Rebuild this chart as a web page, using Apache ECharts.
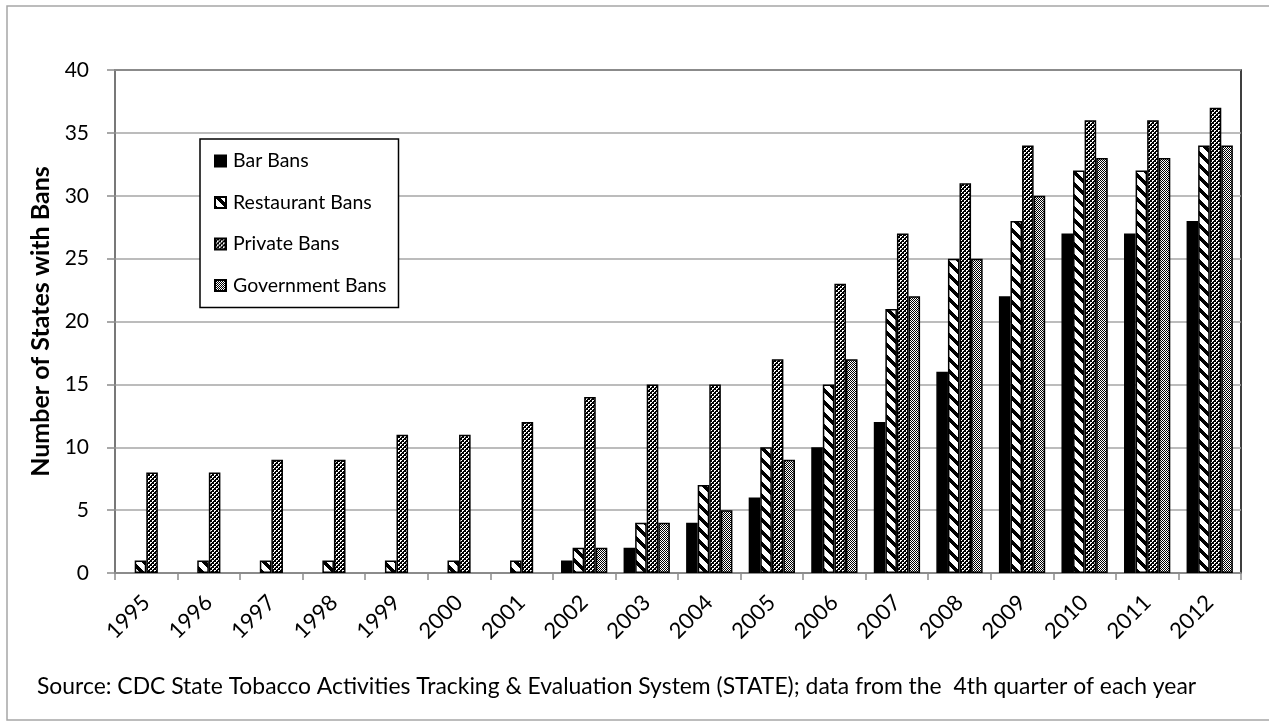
<!DOCTYPE html>
<html>
<head>
<meta charset="utf-8">
<script src="https://cdn.jsdelivr.net/npm/echarts@6/dist/echarts.min.js"></script>
<style>
  html, body { margin: 0; padding: 0; background: #fff; }
  #chart { width: 1269px; height: 722px; }
</style>
</head>
<body>
<div id="chart"></div>
<script>
// Smoke-free law counts by year (number of states)
const years = ['1995','1996','1997','1998','1999','2000','2001','2002','2003','2004','2005','2006','2007','2008','2009','2010','2011','2012'];
const barBans        = [0, 0, 0, 0, 0, 0, 0, 1, 2, 4, 6, 10, 12, 16, 22, 27, 27, 28];
const restaurantBans = [1, 1, 1, 1, 1, 1, 1, 2, 4, 7, 10, 15, 21, 25, 28, 32, 32, 34];
const privateBans    = [8, 8, 9, 9, 11, 11, 12, 14, 15, 15, 17, 23, 27, 31, 34, 36, 36, 37];
const governmentBans = [0, 0, 0, 0, 0, 0, 0, 2, 4, 5, 9, 17, 22, 25, 30, 33, 33, 34];
const yTicks = { min: 0, max: 40, step: 5 };
const sourceNote = 'Source: CDC State Tobacco Activities Tracking & Evaluation System (STATE); data from the  4th quarter of each year';

const FONT = 'Lato, "Liberation Sans", sans-serif';

// Build a small repeating fill tile from a per-pixel rule
function tile(w, h, isBlack) {
  const c = document.createElement('canvas');
  c.width = w; c.height = h;
  const ctx = c.getContext('2d');
  ctx.fillStyle = '#fff';
  ctx.fillRect(0, 0, w, h);
  ctx.fillStyle = '#000';
  for (let y = 0; y < h; y++) {
    for (let x = 0; x < w; x++) {
      if (isBlack(x, y)) ctx.fillRect(x, y, 1, 1);
    }
  }
  return { image: c, repeat: 'repeat' };
}

// wide downward diagonal stripes
const stripeFill = tile(12, 12, (x, y) => (((x - y) % 12) + 12) % 12 < 5);
// dark checkerboard
const darkCheck = tile(4, 4, (x, y) => {
  const white = (x < 2 && y < 2 && !(x === 1 && y === 1)) || (x >= 2 && y >= 2 && !(x === 3 && y === 3));
  return !white;
});
// fine checkerboard
const fineCheck = tile(2, 2, (x, y) => (x + y) % 2 === 0);

const noZero = arr => arr.map(v => (v === 0 ? null : v));

function barSeries(name, data, fill) {
  return {
    name: name,
    type: 'bar',
    data: noZero(data),
    barGap: '0%',
    barCategoryGap: '26%',
    itemStyle: { color: fill, borderColor: '#000', borderWidth: 1.5 },
    emphasis: { disabled: true },
    animation: false
  };
}

const chart = echarts.init(document.getElementById('chart'), null, { renderer: 'canvas' });

chart.setOption({
  animation: false,
  backgroundColor: '#fff',
  textStyle: { fontFamily: FONT, color: '#000' },
  grid: {
    left: 115, right: 28, top: 70, bottom: 149,
    show: true, borderColor: '#000', borderWidth: 1.5, backgroundColor: 'transparent'
  },
  legend: {
    orient: 'vertical',
    left: 200,
    top: 139,
    icon: 'rect',
    itemWidth: 11,
    itemHeight: 11,
    itemGap: 21.5,
    padding: [12, 12, 12, 14],
    borderColor: '#000',
    borderWidth: 1.5,
    backgroundColor: '#fff',
    textStyle: { fontFamily: FONT, fontSize: 19.5, color: '#000', padding: [0, 0, 0, 2] },
    data: ['Bar Bans', 'Restaurant Bans', 'Private Bans', 'Government Bans']
  },
  xAxis: {
    type: 'category',
    data: years,
    axisLine: { lineStyle: { color: '#8c8c8c', width: 1.5 } },
    axisTick: { show: true, length: 7, alignWithLabel: false, lineStyle: { color: '#8c8c8c', width: 1.5 } },
    axisLabel: { rotate: 45, margin: 26, fontSize: 22, color: '#000', fontFamily: FONT, interval: 0 },
    splitLine: { show: false }
  },
  yAxis: {
    type: 'value',
    min: yTicks.min,
    max: yTicks.max,
    interval: yTicks.step,
    name: 'Number of States with Bans',
    nameLocation: 'middle',
    nameGap: 60,
    nameTextStyle: { fontFamily: FONT, fontSize: 25, fontWeight: 'bold', color: '#000' },
    axisLine: { show: true, lineStyle: { color: '#8c8c8c', width: 1.5 } },
    axisTick: { show: true, length: 8, lineStyle: { color: '#8c8c8c', width: 1.5 } },
    axisLabel: { margin: 26, fontSize: 21, color: '#000', fontFamily: FONT },
    splitLine: { show: true, lineStyle: { color: '#a6a6a6', width: 1.5 } }
  },
  series: [
    barSeries('Bar Bans', barBans, '#000'),
    barSeries('Restaurant Bans', restaurantBans, stripeFill),
    barSeries('Private Bans', privateBans, darkCheck),
    barSeries('Government Bans', governmentBans, fineCheck)
  ],
  graphic: [
    {
      type: 'rect',
      silent: true,
      shape: { x: 7, y: 6, width: 1300, height: 714 },
      style: { fill: 'transparent', stroke: '#a6a6a6', lineWidth: 1.5 },
      z: -1
    },
    {
      type: 'text',
      left: 37,
      top: 675,
      style: { text: sourceNote, font: '22.9px ' + FONT, fill: '#000' }
    }
  ]
});
</script>
</body>
</html>
